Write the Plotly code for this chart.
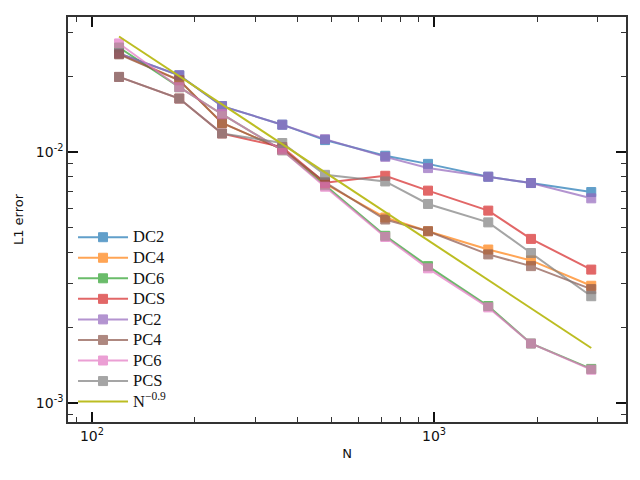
import plotly.graph_objects as go

N = [120, 180, 240, 360, 480, 720, 960, 1440, 1920, 2880]

DC2 = [0.0248, 0.0203, 0.0153, 0.0129, 0.0112, 0.0097, 0.0090, 0.0080, 0.00755, 0.00695]
DC4 = [0.0248, 0.0194, 0.0131, 0.0103, 0.0075, 0.0055, 0.00485, 0.00410, 0.00371, 0.00294]
DC6 = [0.0262, 0.0182, 0.0142, 0.0102, 0.0074, 0.00465, 0.00352, 0.00244, 0.00173, 0.00137]
DCS = [0.0200, 0.0164, 0.0119, 0.0105, 0.00757, 0.00807, 0.00704, 0.00586, 0.00452, 0.00341]
PC2 = [0.0248, 0.0203, 0.0153, 0.0129, 0.0113, 0.0096, 0.00866, 0.0080, 0.00755, 0.00656]
PC4 = [0.0246, 0.0194, 0.0131, 0.0103, 0.0076, 0.0054, 0.00485, 0.00392, 0.00352, 0.00285]
PC6 = [0.0272, 0.0182, 0.0142, 0.0102, 0.0073, 0.00460, 0.00345, 0.00241, 0.00173, 0.00136]
PCS = [0.0200, 0.0164, 0.0119, 0.0109, 0.00814, 0.00766, 0.00623, 0.00526, 0.00397, 0.00267]
REF = [0.0290, 0.02013, 0.01554, 0.01079, 0.00833, 0.00578, 0.00446, 0.00310, 0.00239, 0.00166]

series_names = ["DC2", "DC4", "DC6", "DCS", "PC2", "PC4", "PC6", "PCS"]
series_values = [DC2, DC4, DC6, DCS, PC2, PC4, PC6, PCS]
colors = ["#1f77b4", "#ff7f0e", "#2ca02c", "#d62728",
          "#9467bd", "#8c564b", "#e377c2", "#7f7f7f"]
ref_name = "N<sup>\u22120.9</sup>"

x_major = [100, 1000]
x_major_text = ["10<sup>2</sup>", "10<sup>3</sup>"]
x_minor = [90, 200, 300, 400, 500, 600, 700, 800, 900, 2000, 3000]
y_major = [0.001, 0.01]
y_major_text = ["10<sup>-3</sup>", "10<sup>-2</sup>"]
y_minor = [0.0009, 0.002, 0.003, 0.004, 0.005, 0.006, 0.007, 0.008, 0.009, 0.02, 0.03]

LEG = "<span style='font-size:16.5px'>{}</span>"

fig = go.Figure()
for name, vals, c in zip(series_names, series_values, colors):
    fig.add_trace(go.Scatter(
        x=N, y=vals, name=LEG.format(name), mode="lines+markers",
        line=dict(color=c, width=2), opacity=0.7,
        marker=dict(symbol="square", size=9, color=c,
                    line=dict(color=c, width=1)),
    ))
fig.add_trace(go.Scatter(
    x=N, y=REF, name=LEG.format(ref_name), mode="lines",
    line=dict(color="#bcbd22", width=2),
))

axis_common = dict(
    type="log", showline=True, linecolor="#333333", linewidth=1.5,
    mirror="allticks", ticks="inside", ticklen=10, tickwidth=1.8,
    tickcolor="#111111", showgrid=False, zeroline=False,
    tickfont=dict(family="DejaVu Sans", size=14, color="#111111"),
)

fig.update_xaxes(
    **axis_common, range=[1.930, 3.561],
    tickmode="array", tickvals=x_major, ticktext=x_major_text,
    minor=dict(tickmode="array", tickvals=x_minor, ticks="inside",
               ticklen=5, tickwidth=1, tickcolor="#333333"),
    title=dict(text="N", font=dict(family="DejaVu Sans", size=13, color="#111111"),
               standoff=6),
)
fig.update_yaxes(
    **axis_common, range=[-3.075, -1.460],
    tickmode="array", tickvals=y_major, ticktext=y_major_text,
    minor=dict(tickmode="array", tickvals=y_minor, ticks="inside",
               ticklen=5, tickwidth=1, tickcolor="#333333"),
    title=dict(text="L1 error", font=dict(family="DejaVu Sans", size=13, color="#111111"),
               standoff=9),
)

fig.update_layout(
    width=640, height=480,
    margin=dict(l=60, r=22, t=7, b=66),
    paper_bgcolor="white", plot_bgcolor="white",
    showlegend=True,
    legend=dict(x=0.009, y=0.494, xanchor="left", yanchor="top",
                bgcolor="rgba(0,0,0,0)", borderwidth=0, itemwidth=50,
                font=dict(family="Liberation Serif", size=13.5, color="#111111")),
)

fig.write_html("out.html")
